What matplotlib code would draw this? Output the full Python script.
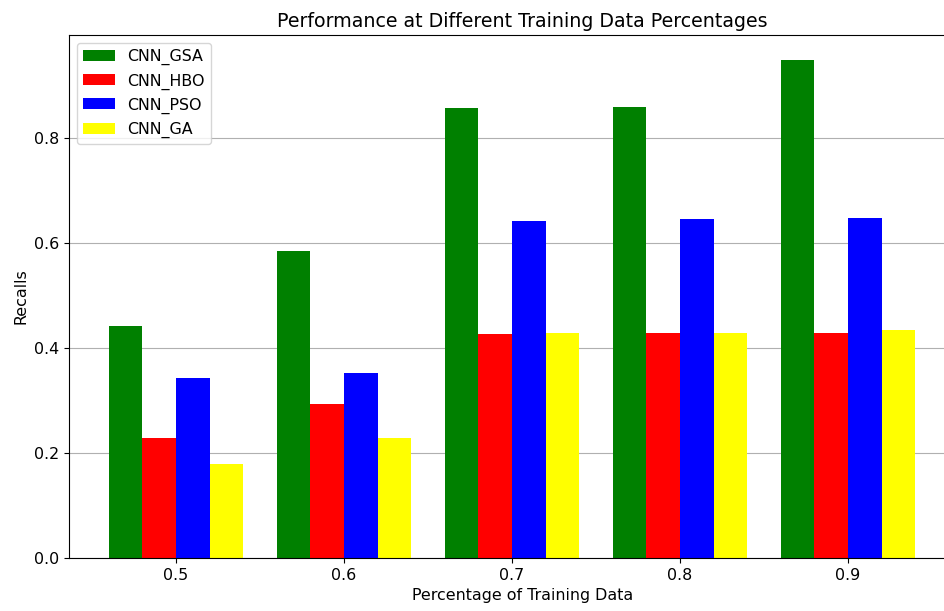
import numpy as np
import matplotlib.pyplot as plt

percentages = ["0.5", "0.6", "0.7", "0.8", "0.9"]
models = ["CNN_GSA", "CNN_HBO", "CNN_PSO", "CNN_GA"]
colors = ["green", "red", "blue", "yellow"]

recall_gsa = [0.442, 0.585, 0.857, 0.859, 0.949]
recall_hbo = [0.229, 0.293, 0.427, 0.429, 0.429]
recall_pso = [0.343, 0.352, 0.642, 0.646, 0.648]
recall_ga = [0.179, 0.229, 0.429, 0.429, 0.434]

recalls = [recall_gsa, recall_hbo, recall_pso, recall_ga]

plt.rcParams['font.size'] = 11.4

fig = plt.figure(figsize=(9.45, 6.11), dpi=100)
# axes run past the right edge of the canvas
ax = fig.add_axes([0.073, 0.0867, 0.96, 0.856])

x = np.arange(len(percentages))
width = 0.2
for i, (name, vals, c) in enumerate(zip(models, recalls, colors)):
    ax.bar(x + (i - 1.5) * width, vals, width, label=name, color=c)

ax.set_xlim(-0.637, -0.637 + 0.96 * 945 / 168)
ax.set_xticks(x)
ax.set_xticklabels(percentages)
ax.set_xlabel("Percentage of Training Data")
ax.set_ylabel("Recalls")
ax.set_title("Performance at Different Training Data Percentages", fontsize=13.7)
ax.yaxis.grid(True)
ax.set_axisbelow(True)
ax.spines['right'].set_visible(False)
ax.legend(loc="upper left")

plt.savefig("out.png")
